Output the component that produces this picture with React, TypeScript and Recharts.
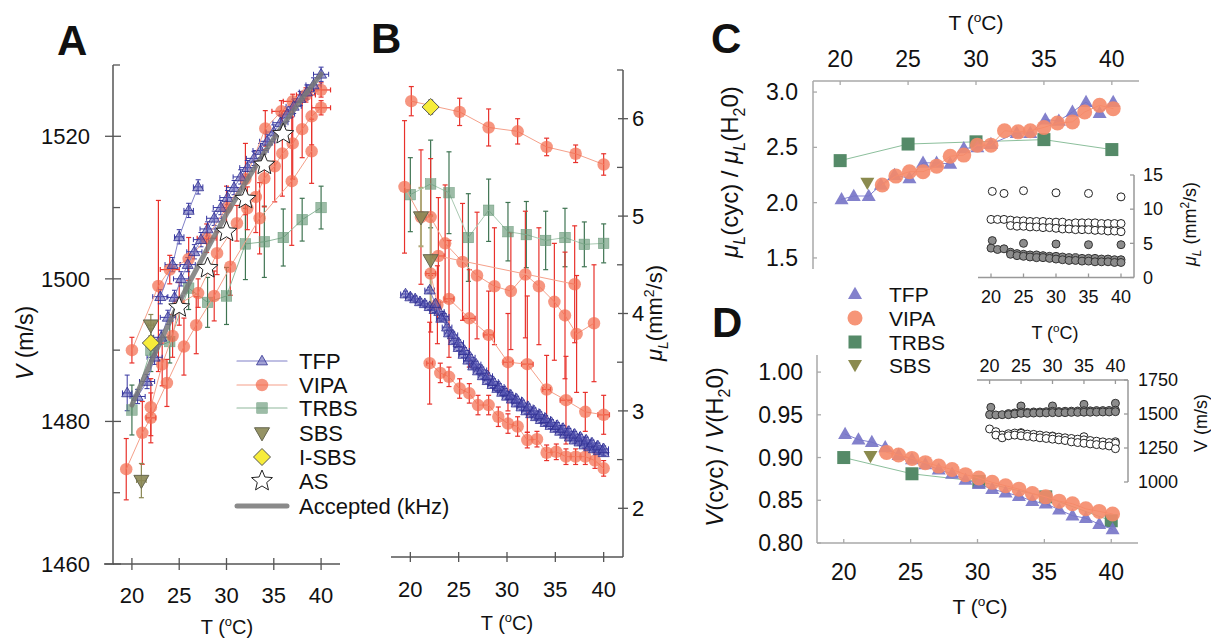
import React from "react";
import { ScatterChart, Scatter, XAxis, YAxis, ErrorBar } from "recharts";

const FONT = "'Liberation Sans', Arial, Helvetica, sans-serif";

// [T, value, yErr?, xErr?]
type Pt = [number, number, number?, number?];

// ---------- panel A : V (m/s) ----------
const acceptedA: Pt[] = [
  [20, 1482.3], [21, 1485.3], [22, 1488.3], [23, 1491.2], [24, 1494.0], [25, 1496.7], [26, 1499.3],
  [27, 1501.8], [28, 1504.3], [29, 1506.7], [30, 1509.1], [31, 1511.3], [32, 1513.5], [33, 1515.6],
  [34, 1517.7], [35, 1519.7], [36, 1521.6], [37, 1523.5], [38, 1525.3], [39, 1527.0], [40, 1528.7],
];
const tfpA1: Pt[] = [
  [19.5, 1484, 2.5, 0.5], [20.6, 1483.5, 1, 0.8], [21.6, 1485.6, 1, 0.8], [22.4, 1489, 1, 0.8], [23.1, 1491.8, 1, 0.8],
  [23.8, 1494.6, 1, 0.8], [24.5, 1497.4, 1, 0.8], [25.2, 1500, 1, 0.8], [25.9, 1502, 1, 0.8], [26.6, 1503.8, 1, 0.8],
  [27.3, 1505.5, 1, 0.8], [28, 1507, 1, 0.8], [28.7, 1508.5, 1, 0.8], [29.4, 1510, 1, 0.8], [30.1, 1511.4, 1, 0.8],
  [30.8, 1512.8, 1, 0.8], [31.5, 1514.3, 1, 0.8], [32.2, 1515.6, 1, 0.8], [32.9, 1516.9, 1, 0.8], [33.6, 1518, 1, 0.8],
  [34.3, 1519.3, 1, 0.8], [35, 1520.6, 1, 0.8], [35.7, 1521.9, 1, 0.8], [36.4, 1523.1, 1, 0.8], [37.1, 1524.2, 1, 0.8],
  [37.8, 1525.3, 1, 0.8], [38.5, 1526.2, 1, 0.8], [39.2, 1527.2, 1, 0.8], [40, 1528.7, 1, 0.8],
];
const tfpA2: Pt[] = [[23, 1497.5, 1, 0.8], [24.3, 1502, 1, 0.8], [25, 1505.9, 1, 0.5], [26, 1509.6, 1, 0.5], [27, 1512.9, 1, 0.5]];
const vipaA1: Pt[] = [
  [19.4, 1473.3, 4.3], [21.1, 1478.4, 4.4], [22, 1480.5, 3.5, 0.5], [23.7, 1485.4, 3.3], [25.5, 1490.5, 4],
  [26.8, 1493.5, 4], [28.7, 1497.6, 3.5], [30.4, 1501.7, 4], [33.5, 1508.5, 5], [36.9, 1513.7, 9], [39, 1517.9, 4.5],
];
const vipaA2: Pt[] = [
  [20, 1490, 1.8], [22.8, 1499, 12], [24, 1501.3, 2, 1], [26, 1502.8, 3], [27.9, 1505.7, 2, 1], [30, 1510, 3],
  [32, 1514, 5], [34.1, 1521.1, 2.5], [35.8, 1523.5, 1.5, 1], [37, 1524.9, 1, 1], [38.4, 1525.8, 1, 1], [40, 1526.5, 1, 1],
];
const vipaA3: Pt[] = [
  [22, 1482, 4], [23.2, 1488, 3], [24.3, 1492, 3], [25, 1496.5, 3], [27, 1498, 2], [29, 1503.6, 3],
  [31.1, 1507.8, 2.5], [32.2, 1509.9, 3], [33.1, 1511.5, 5], [34, 1514.1, 4], [35.1, 1515.8, 5], [35.9, 1517.6, 6],
  [37, 1519, 5], [38, 1521, 4], [39, 1522.8, 4], [40, 1524, 1, 1],
];
const trbsA: Pt[] = [
  [20, 1481.6, 3.5], [22, 1490, 3], [24, 1491.2, 3], [26, 1498.7, 3], [28, 1496.7, 3.5], [30, 1497.6, 4],
  [32, 1504.9, 5], [34, 1505.2, 5], [36, 1505.8, 4], [38, 1508.3, 3], [40, 1510, 3],
];
const sbsA: Pt[] = [[21, 1471.7, 2.4, 0.5], [22, 1493.5, 1.5, 0.3]];
const isbsA: Pt[] = [[22, 1491]];
const asA: Pt[] = [[25, 1496], [28, 1501.5], [30, 1506.6], [32, 1511.2], [34, 1516], [36, 1520.3]];

// ---------- panel B : muL (mm2/s) ----------
const vipaB1: Pt[] = [[20.1, 6.18, 0.15], [25.1, 6.07, 0.14], [28.1, 5.91, 0.19], [31.1, 5.87, 0.13], [34.1, 5.71, 0.09], [37.1, 5.64, 0.09], [40, 5.53, 0.11]];
const vipaB2: Pt[] = [
  [19.4, 5.3, 0.68], [21.1, 4.99, 0.69], [22.1, 4.99, 0.6], [23.6, 4.72, 0.6], [25.4, 4.53, 0.6], [26.9, 4.39, 0.65],
  [28.7, 4.28, 0.6], [30.4, 4.23, 0.6], [31.9, 4.4, 0.65], [33.3, 4.28, 0.6], [34.9, 4.12, 0.6], [36, 3.98, 0.65],
  [37.2, 3.79, 0.6], [39, 3.9, 0.6],
];
const vipaB3: Pt[] = [[22.9, 4.59, 0.6, 0.6], [37, 4.3, 0.6]];
const vipaB4: Pt[] = [
  [22.1, 4.41, 0.6, 0.5], [22.8, 4.09, 0.4], [24, 4.15, 0.6, 0.5], [26.1, 3.95, 0.5, 0.6], [28.1, 3.78, 0.45, 0.5],
  [30.1, 3.5, 0.5, 0.5], [32.1, 3.48, 0.7, 0.6], [34.1, 3.22, 0.35, 0.4], [36.1, 3.11, 0.45, 0.6], [38.1, 2.99, 0.2],
  [40, 2.96, 0.2, 0.6],
];
const vipaB5: Pt[] = [
  [22, 3.49, 0.42, 0.3], [23.1, 3.39, 0.1], [24, 3.35, 0.1], [25.1, 3.23, 0.1], [26.1, 3.18, 0.1], [27, 3.06, 0.1],
  [28.1, 3.06, 0.1], [29.1, 2.94, 0.1], [30.1, 2.87, 0.1], [31.1, 2.84, 0.1], [32.1, 2.7, 0.08], [33.1, 2.71, 0.08],
  [34.1, 2.57, 0.08], [35.1, 2.58, 0.08], [36.1, 2.53, 0.08], [37.1, 2.53, 0.08], [38.1, 2.53, 0.08], [39.1, 2.49, 0.08],
  [40, 2.41, 0.08],
];
const tfpB1: Pt[] = [
  [19.5, 4.2], [20, 4.17], [20.5, 4.15], [21, 4.12], [21.5, 4.1], [22, 4.07], [22.5, 4.04], [23, 4.02], [23.5, 3.97],
  [24, 3.8], [24.5, 3.72], [25, 3.65], [25.5, 3.58], [26, 3.52], [26.5, 3.46], [27, 3.41], [27.5, 3.36], [28, 3.31],
  [28.5, 3.27], [29, 3.23], [29.5, 3.19], [30, 3.15], [30.5, 3.12], [31, 3.08], [31.5, 3.04], [32, 3.0], [32.5, 2.97],
  [33, 2.94], [33.5, 2.91], [34, 2.88], [34.5, 2.85], [35, 2.82], [35.5, 2.79], [36, 2.76], [36.5, 2.73], [37, 2.7],
  [37.5, 2.68], [38, 2.65], [38.5, 2.63], [39, 2.61], [39.5, 2.59], [40, 2.57],
];
const tfpB2: Pt[] = [
  [22, 4.24], [22.6, 4.1], [23.2, 3.95], [23.8, 3.86], [24.4, 3.78], [25, 3.7], [25.6, 3.62], [26.2, 3.55], [26.8, 3.48],
  [27.4, 3.42], [28, 3.36], [28.6, 3.3], [29.2, 3.25], [29.8, 3.2], [30.4, 3.16], [31, 3.12], [31.6, 3.08], [32.2, 3.04],
  [32.8, 3.0], [33.4, 2.96], [34, 2.92], [34.6, 2.88], [35.2, 2.85], [35.8, 2.82], [36.4, 2.79], [37, 2.76], [37.6, 2.73],
  [38.2, 2.7], [38.8, 2.67], [39.4, 2.64], [40, 2.61],
];
const trbsB: Pt[] = [
  [20, 5.22, 0.38], [22.1, 5.33, 0.45], [24, 5.24, 0.42], [26, 4.78, 0.45], [28.1, 5.06, 0.32], [30.1, 4.84, 0.3],
  [32, 4.81, 0.34], [34, 4.75, 0.3], [36, 4.78, 0.3], [38, 4.71, 0.23], [40, 4.72, 0.2],
];
const sbsB: Pt[] = [[21.1, 4.99, 0.3, 0.3], [22.1, 4.55, 0.45]];
const isbsB: Pt[] = [[22.1, 6.12, 0.07]];

// ---------- panel C : muL ratio ----------
const tfpC: Pt[] = [
  [20.1, 2.03], [21, 2.06], [22.1, 2.06], [23, 2.16], [24, 2.25], [25.1, 2.22], [26.1, 2.36], [27.1, 2.36], [28.1, 2.35],
  [29.1, 2.49], [30.1, 2.5], [31.1, 2.53], [33, 2.63], [34, 2.63], [35.1, 2.75], [36.1, 2.74], [37.1, 2.82], [38.1, 2.91],
  [39.1, 2.81], [40.1, 2.91],
];
const vipaC: Pt[] = [
  [23.1, 2.16], [24.1, 2.24], [25.1, 2.28], [26.1, 2.28], [27.1, 2.33], [28.1, 2.42], [29.1, 2.43], [30.1, 2.52],
  [31.1, 2.52], [32.1, 2.65], [33.1, 2.64], [34, 2.65], [35, 2.68], [36, 2.72], [37.1, 2.73], [38, 2.82], [39.1, 2.88],
  [40.1, 2.85],
];
const trbsC: Pt[] = [[20, 2.38], [25, 2.53], [30, 2.55], [35, 2.57], [40, 2.48]];
const sbsC: Pt[] = [[22, 2.18]];
// inset C : muL (mm2/s)
const openC0: Pt[] = [[20.2, 12.6], [22, 12.3], [25, 12.7], [30, 12.4], [35, 12.3], [40, 11.8]];
const openC1: Pt[] = [
  [20, 8.5], [21, 8.5], [22, 8.5], [23, 8.4], [24, 8.3], [25, 8.3], [26, 8.2], [27, 8.2], [28, 8.2], [29, 8.1], [30, 8.1],
  [31, 8.1], [32, 7.9], [33, 8.0], [34, 8.0], [35, 8.0], [36, 8.0], [37, 7.9], [38, 7.9], [39, 7.9], [40, 7.9],
];
const openC2: Pt[] = [
  [23, 7.6], [24, 7.5], [25, 7.5], [26, 7.4], [27, 7.4], [28, 7.3], [29, 7.3], [30, 7.2], [31, 7.1], [32, 7.1], [33, 7.0],
  [34, 7.0], [35, 7.0], [36, 6.9], [37, 6.9], [38, 6.8], [39, 6.8], [40, 6.7],
];
const grayC0: Pt[] = [[20.2, 5.4], [25, 5.0], [30, 4.9], [35, 4.8], [40, 4.8]];
const grayC1: Pt[] = [
  [20, 4.3], [21, 4.1], [22, 4.2], [23, 3.7], [24, 3.5], [25, 3.4], [26, 3.3], [27, 3.3], [28, 3.2], [29, 3.1], [30, 3.1],
  [31, 3.0], [32, 2.9], [33, 2.9], [34, 2.8], [35, 2.8], [36, 2.8], [37, 2.7], [38, 2.7], [39, 2.6], [40, 2.6],
];
const grayC2: Pt[] = [
  [23, 3.4], [24, 3.2], [25, 3.1], [26, 3.0], [27, 2.9], [28, 2.9], [29, 2.8], [30, 2.7], [31, 2.6], [32, 2.5], [33, 2.5],
  [34, 2.4], [35, 2.4], [36, 2.3], [37, 2.3], [38, 2.3], [39, 2.2], [40, 2.2],
];

// ---------- panel D : V ratio ----------
const tfpD: Pt[] = [
  [20.1, 0.9275], [21.1, 0.921], [22.1, 0.918], [23.1, 0.912], [24.1, 0.903], [25.1, 0.898], [26.1, 0.892], [27.1, 0.886],
  [28.1, 0.881], [29.1, 0.874], [30.1, 0.869], [31.1, 0.863], [32.1, 0.859], [33.1, 0.855], [34.1, 0.849], [35.1, 0.846],
  [36.1, 0.839], [37.1, 0.832], [38.1, 0.829], [39.1, 0.822], [40.1, 0.816],
];
const vipaD: Pt[] = [
  [23.2, 0.906], [24.1, 0.903], [25.1, 0.899], [26.1, 0.894], [27.1, 0.89], [28.1, 0.886], [29.1, 0.88], [30.1, 0.876],
  [31.1, 0.871], [32.1, 0.867], [33.1, 0.863], [34.1, 0.858], [35.1, 0.854], [36.1, 0.849], [37.1, 0.846], [38.1, 0.84],
  [39.1, 0.837], [40.1, 0.834],
];
const trbsD: Pt[] = [[20, 0.9], [25.1, 0.881], [30.1, 0.872], [35.1, 0.854], [40, 0.826]];
const sbsD: Pt[] = [[22, 0.902]];
// inset D : V (m/s)
const grayD0: Pt[] = [[20.2, 1549], [25, 1559], [30, 1559], [35, 1571], [40, 1579]];
const grayD1: Pt[] = [
  [20, 1495], [21, 1493], [22, 1495], [23, 1503], [24, 1508], [25, 1515], [26, 1512], [27, 1515], [28, 1515], [29, 1517],
  [30, 1520], [31, 1518], [32, 1520], [33, 1521], [34, 1522], [35, 1524], [36, 1523], [37, 1525], [38, 1525], [39, 1526],
  [40, 1528],
];
const grayD2: Pt[] = [
  [23, 1495], [24, 1500], [25, 1505], [26, 1505], [27, 1507], [28, 1508], [29, 1508], [30, 1510], [31, 1510], [32, 1510],
  [33, 1512], [34, 1512], [35, 1513], [36, 1513], [37, 1514], [38, 1515], [39, 1515], [40, 1517],
];
const openD0: Pt[] = [[20, 1390], [25, 1363], [30, 1338], [35, 1333], [40, 1296]];
const openD1: Pt[] = [
  [21, 1370], [22, 1345], [23, 1355], [24, 1360], [25, 1358], [26, 1352], [27, 1350], [28, 1345], [29, 1340], [30, 1335],
  [31, 1330], [32, 1325], [33, 1320], [34, 1315], [35, 1310], [36, 1305], [37, 1300], [38, 1295], [39, 1290], [40, 1285],
];
const openD2: Pt[] = [
  [21, 1345], [22, 1325], [23, 1340], [24, 1345], [25, 1340], [26, 1335], [27, 1330], [28, 1325], [29, 1320], [30, 1315],
  [31, 1310], [32, 1305], [33, 1295], [34, 1290], [35, 1285], [36, 1280], [37, 1275], [38, 1270], [39, 1265], [40, 1245],
];

const tempTicks = [20, 25, 30, 35, 40];

const toPts = (a: Pt[]) => a.map(([x, y, ey, ex]) => ({ x, y, ey: ey ?? 0, ex: ex ?? 0 }));
// TFP points carry the same small bars everywhere
const tfpErr = (a: Pt[]) => a.map(([x, y]) => ({ x, y, ey: 0.03, ex: 0.5 }));

// ---------- markers ----------
type Kind = "tri" | "inv" | "circ" | "sq" | "dia" | "star" | "none";
type Sty = { kind: Kind; s: number; fill: string; stroke?: string; fo?: number; sw?: number };

function glyph(cx: number, cy: number, m: Sty) {
  const { kind, s, fill, stroke = "none", fo = 1, sw = 1 } = m;
  const st = { fill, fillOpacity: fo, stroke, strokeWidth: sw };
  const h = s / 2;
  switch (kind) {
    case "circ":
      return <circle cx={cx} cy={cy} r={h} {...st} />;
    case "sq":
      return <rect x={cx - h} y={cy - h} width={s} height={s} {...st} />;
    case "tri":
      return <polygon points={`${cx},${cy - h * 1.05} ${cx + h},${cy + h * 0.7} ${cx - h},${cy + h * 0.7}`} {...st} />;
    case "inv":
      return <polygon points={`${cx},${cy + h * 1.05} ${cx + h},${cy - h * 0.7} ${cx - h},${cy - h * 0.7}`} {...st} />;
    case "dia":
      return <polygon points={`${cx},${cy - h} ${cx + h},${cy} ${cx},${cy + h} ${cx - h},${cy}`} {...st} />;
    case "star": {
      const pts: string[] = [];
      for (let i = 0; i < 10; i++) {
        const r = i % 2 ? h * 0.45 : h;
        const a = -Math.PI / 2 + (i * Math.PI) / 5;
        pts.push(`${cx + r * Math.cos(a)},${cy + r * Math.sin(a)}`);
      }
      return <polygon points={pts.join(" ")} {...st} />;
    }
    default:
      return <g />;
  }
}
const shape = (m: Sty) => (p: any) => (p.cx == null ? <g /> : glyph(p.cx, p.cy, m));

const triAB: Sty = { kind: "tri", s: 11, fill: "#5555b0", stroke: "#2e2e90", fo: 0.55, sw: 0.8 };
const circAB: Sty = { kind: "circ", s: 12.5, fill: "#f26a4c", fo: 0.7 };
const sqAB: Sty = { kind: "sq", s: 10.5, fill: "#5c8f6c", stroke: "#6c9c7c", fo: 0.6, sw: 0.5 };
const invAB: Sty = { kind: "inv", s: 15, fill: "#8a8754", stroke: "#666650", fo: 0.9 };
const diaAB: Sty = { kind: "dia", s: 17, fill: "#f7ec3a", stroke: "#555" };
const starAB: Sty = { kind: "star", s: 22, fill: "#fff", stroke: "#222" };
const noMark: Sty = { kind: "none", s: 0, fill: "none" };

const triCD: Sty = { kind: "tri", s: 14, fill: "#7673c6", fo: 0.9 };
const circCD: Sty = { kind: "circ", s: 15, fill: "#f58a69", fo: 0.9 };
const sqCD: Sty = { kind: "sq", s: 13, fill: "#558a68" };
const invCD: Sty = { kind: "inv", s: 14, fill: "#8a8a4e" };
const openI: Sty = { kind: "circ", s: 8, fill: "#fff", stroke: "#222" };
const grayI: Sty = { kind: "circ", s: 8, fill: "#8c8c8c", stroke: "#333" };

const RED = "#e8312b";
const NAVY = "#3535a0";
const DKGREEN = "#3f7452";

type SerOpt = { line?: string; lw?: number; ey?: string; ex?: string; ew?: number };
function series(id: string, data: any[], m: Sty, o: SerOpt = {}) {
  return (
    <Scatter
      key={id}
      data={data}
      isAnimationActive={false}
      shape={shape(m)}
      line={o.line ? { stroke: o.line, strokeWidth: o.lw ?? 1, strokeLinecap: "round" } : false}
    >
      {o.ey && <ErrorBar dataKey="ey" direction="y" width={2.5} stroke={o.ey} strokeWidth={o.ew ?? 1.2} />}
      {o.ex && <ErrorBar dataKey="ex" direction="x" width={2.5} stroke={o.ex} strokeWidth={o.ew ?? 1.2} />}
    </Scatter>
  );
}

// ---------- ticks ----------
type TickCfg = {
  side: "left" | "right" | "top" | "bottom";
  major: number[];
  fmt?: (v: number) => string;
  fs: number;
  gap: number;
  out: number;
  inn: number;
  minor?: number;
  color: string;
};
// recharts hands the tick the point on the axis line (tickSize and tickMargin are 0)
function tickFn(c: TickCfg) {
  return (p: any) => {
    const { x, y, payload } = p;
    const v = payload.value;
    const isMajor = c.major.some((m) => Math.abs(m - v) < 1e-9);
    const sg = c.side === "left" || c.side === "top" ? -1 : 1;
    const vert = c.side === "left" || c.side === "right";
    const o = isMajor ? c.out : 0;
    const i = isMajor ? c.inn : c.minor ?? 0;
    const ln = vert ? (
      <line x1={x + sg * o} x2={x - sg * i} y1={y} y2={y} stroke={c.color} strokeWidth={1.3} />
    ) : (
      <line x1={x} x2={x} y1={y + sg * o} y2={y - sg * i} stroke={c.color} strokeWidth={1.3} />
    );
    const txt = c.fmt ? c.fmt(v) : String(v);
    const ts = { fontSize: c.fs, fontFamily: FONT, fill: "#111" };
    const lab = !isMajor ? null : vert ? (
      <text x={x + sg * c.gap} y={y} dy="0.35em" textAnchor={sg < 0 ? "end" : "start"} style={ts}>
        {txt}
      </text>
    ) : (
      <text x={x} y={y + sg * c.gap} dy="0.35em" textAnchor="middle" style={ts}>
        {txt}
      </text>
    );
    return (
      <g>
        {ln}
        {lab}
      </g>
    );
  };
}

// ---------- frame ----------
const PAD = 90;
type FrameP = {
  box: [number, number, number, number];
  xd: [number, number];
  yd: [number, number];
  xt: number[];
  yt: number[];
  xs: "top" | "bottom";
  ys: "left" | "right";
  xTick: any;
  yTick: any;
  axis: string;
  children: React.ReactNode;
};
function Frame({ box, xd, yd, xt, yt, xs, ys, xTick, yTick, axis, children }: FrameP) {
  const [l, t, r, b] = box;
  const AW = 2; // thin axis boxes, plot edge stays on box
  const margin = {
    top: PAD - (xs === "top" ? AW : 0),
    bottom: PAD - (xs === "bottom" ? AW : 0),
    left: PAD - (ys === "left" ? AW : 0),
    right: PAD - (ys === "right" ? AW : 0),
  };
  return (
    <div style={{ position: "absolute", left: l - PAD, top: t - PAD }}>
      <ScatterChart width={r - l + 2 * PAD} height={b - t + 2 * PAD} margin={margin}>
        <XAxis
          type="number"
          dataKey="x"
          domain={xd}
          ticks={xt}
          orientation={xs}
          height={AW}
          tickSize={0}
          tickMargin={0}
          interval={0}
          tickLine={false}
          allowDataOverflow
          axisLine={{ stroke: axis, strokeWidth: 1.5 }}
          tick={xTick}
        />
        <YAxis
          type="number"
          dataKey="y"
          domain={yd}
          ticks={yt}
          orientation={ys}
          width={AW}
          tickSize={0}
          tickMargin={0}
          interval={0}
          tickLine={false}
          allowDataOverflow
          axisLine={{ stroke: axis, strokeWidth: 1.5 }}
          tick={yTick}
        />
        {children}
      </ScatterChart>
    </div>
  );
}

const AX_DARK = "#555";
const AX_LIGHT = "#a9a9a9";

function PanelA() {
  return (
    <Frame
      box={[113, 65, 340, 564]}
      xd={[18, 42]}
      yd={[1460, 1530]}
      xt={tempTicks}
      yt={[1460, 1470, 1480, 1490, 1500, 1510, 1520, 1530]}
      xs="bottom"
      ys="left"
      axis={AX_DARK}
      xTick={tickFn({ side: "bottom", major: tempTicks, fs: 22, gap: 31, out: 6, inn: 6, color: AX_DARK })}
      yTick={tickFn({ side: "left", major: [1460, 1480, 1500, 1520], fs: 22, gap: 23, out: 8, inn: 8, minor: 7, color: AX_DARK })}
    >
      {series("trbsA", toPts(trbsA), sqAB, { line: "#8fb89c", ey: DKGREEN })}
      {series("vipaA1", toPts(vipaA1), circAB, { line: "#f5a08a", ey: RED, ex: RED })}
      {series("vipaA2", toPts(vipaA2), circAB, { line: "#f5a08a", ey: RED, ex: RED })}
      {series("vipaA3", toPts(vipaA3), circAB, { line: "#f5a08a", ey: RED, ex: RED })}
      {series("tfpA1", toPts(tfpA1), triAB, { line: "#8080c8", ey: NAVY, ex: NAVY, ew: 1 })}
      {series("tfpA2", toPts(tfpA2), triAB, { line: "#8080c8", ey: NAVY, ex: NAVY, ew: 1 })}
      {series("accA", toPts(acceptedA), noMark, { line: "rgba(120,120,120,0.85)", lw: 5 })}
      {series("sbsA", toPts(sbsA), invAB, { ey: "#8a8754", ex: "#8a8754" })}
      {series("isbsA", toPts(isbsA), diaAB)}
      {series("asA", toPts(asA), starAB)}
    </Frame>
  );
}

function PanelB() {
  return (
    <Frame
      box={[391, 70, 623, 557]}
      xd={[18, 42]}
      yd={[1.5, 6.5]}
      xt={tempTicks}
      yt={[2, 2.5, 3, 3.5, 4, 4.5, 5, 5.5, 6, 6.5]}
      xs="bottom"
      ys="right"
      axis={AX_DARK}
      xTick={tickFn({ side: "bottom", major: tempTicks, fs: 22, gap: 32, out: 5, inn: 5, color: AX_DARK })}
      yTick={tickFn({ side: "right", major: [2, 3, 4, 5, 6], fs: 22, gap: 9, out: 5, inn: 5, minor: 6, color: AX_DARK })}
    >
      {series("trbsB", toPts(trbsB), sqAB, { line: "#a9c9b2", ey: DKGREEN })}
      {series("vipaB1", toPts(vipaB1), circAB, { line: "#f5a08a", ey: RED })}
      {series("vipaB2", toPts(vipaB2), circAB, { line: "#f5a08a", ey: RED, ex: RED })}
      {series("vipaB3", toPts(vipaB3), circAB, { line: "#f5a08a", ey: RED, ex: RED })}
      {series("vipaB4", toPts(vipaB4), circAB, { line: "#f5a08a", ey: RED, ex: RED })}
      {series("vipaB5", toPts(vipaB5), circAB, { line: "#f5a08a", ey: RED, ex: RED })}
      {series("tfpB1", tfpErr(tfpB1), triAB, { line: "#8080c8", ey: NAVY, ex: NAVY, ew: 1 })}
      {series("tfpB2", tfpErr(tfpB2), triAB, { line: "#8080c8", ey: NAVY, ex: NAVY, ew: 1 })}
      {series("sbsB", toPts(sbsB), invAB, { ey: "#b0a878", ex: "#b0a878", ew: 2 })}
      {series("isbsB", toPts(isbsB), diaAB, { ey: "#222" })}
    </Frame>
  );
}

function PanelC() {
  return (
    <>
      <Frame
        box={[813, 81, 1139, 269]}
        xd={[18, 42]}
        yd={[1.4, 3.1]}
        xt={tempTicks}
        yt={[1.5, 2, 2.5, 3]}
        xs="top"
        ys="left"
        axis={AX_LIGHT}
        xTick={tickFn({ side: "top", major: tempTicks, fs: 23, gap: 22, out: 0, inn: 4, color: AX_LIGHT })}
        yTick={tickFn({ side: "left", major: [1.5, 2, 2.5, 3], fmt: (v) => v.toFixed(1), fs: 23, gap: 15, out: 0, inn: 4, color: AX_LIGHT })}
      >
        {series("trbsC", toPts(trbsC), sqCD, { line: "#8cbf9c" })}
        {series("tfpC", toPts(tfpC), triCD, { line: "#8080d0" })}
        {series("vipaC", toPts(vipaC), circCD, { line: "#f59a7a" })}
        {series("sbsC", toPts(sbsC), invCD)}
      </Frame>
      <Frame
        box={[978, 175, 1134, 277.5]}
        xd={[18, 42]}
        yd={[0, 15]}
        xt={tempTicks}
        yt={[0, 5, 10, 15]}
        xs="bottom"
        ys="right"
        axis="#999"
        xTick={tickFn({ side: "bottom", major: tempTicks, fs: 18, gap: 19, out: 0, inn: 4, color: "#999" })}
        yTick={tickFn({ side: "right", major: [0, 5, 10, 15], fs: 18, gap: 9, out: 0, inn: 4, color: "#999" })}
      >
        {series("openC0", toPts(openC0), openI)}
        {series("openC1", toPts(openC1), openI)}
        {series("openC2", toPts(openC2), openI)}
        {series("grayC0", toPts(grayC0), grayI)}
        {series("grayC1", toPts(grayC1), grayI)}
        {series("grayC2", toPts(grayC2), grayI)}
      </Frame>
    </>
  );
}

function PanelD() {
  return (
    <>
      <Frame
        box={[817, 355, 1138, 543]}
        xd={[18, 42]}
        yd={[0.8, 1.02]}
        xt={tempTicks}
        yt={[0.8, 0.85, 0.9, 0.95, 1.0]}
        xs="bottom"
        ys="left"
        axis={AX_LIGHT}
        xTick={tickFn({ side: "bottom", major: tempTicks, fs: 23, gap: 28.5, out: 0, inn: 4, color: AX_LIGHT })}
        yTick={tickFn({ side: "left", major: [0.8, 0.85, 0.9, 0.95, 1.0], fmt: (v) => v.toFixed(2), fs: 23, gap: 14, out: 0, inn: 4, color: AX_LIGHT })}
      >
        {series("trbsD", toPts(trbsD), sqCD, { line: "#8cbf9c" })}
        {series("tfpD", toPts(tfpD), triCD, { line: "#8080d0" })}
        {series("vipaD", toPts(vipaD), circCD, { line: "#f59a7a" })}
        {series("sbsD", toPts(sbsD), invCD)}
      </Frame>
      <Frame
        box={[977, 380, 1128, 482]}
        xd={[18, 42]}
        yd={[1000, 1750]}
        xt={tempTicks}
        yt={[1000, 1250, 1500, 1750]}
        xs="top"
        ys="right"
        axis="#999"
        xTick={tickFn({ side: "top", major: tempTicks, fs: 18, gap: 14.5, out: 0, inn: 4, color: "#999" })}
        yTick={tickFn({ side: "right", major: [1000, 1250, 1500, 1750], fs: 18, gap: 10, out: 0, inn: 4, color: "#999" })}
      >
        {series("openD0", toPts(openD0), openI)}
        {series("openD1", toPts(openD1), openI)}
        {series("openD2", toPts(openD2), openI)}
        {series("grayD0", toPts(grayD0), grayI)}
        {series("grayD1", toPts(grayD1), grayI)}
        {series("grayD2", toPts(grayD2), grayI)}
      </Frame>
    </>
  );
}

// "T (oC)" title
function TLabel({ x, y, fs }: { x: number; y: number; fs: number }) {
  return (
    <text x={x} y={y} textAnchor="middle" fontSize={fs}>
      {"T ("}
      <tspan dy={-fs * 0.4} fontSize={fs * 0.65}>o</tspan>
      <tspan dy={fs * 0.4}>C)</tspan>
    </text>
  );
}

const legendA = [
  { label: "TFP", m: triAB, line: "#8080c8" },
  { label: "VIPA", m: circAB, line: "#f5a08a" },
  { label: "TRBS", m: sqAB, line: "#8fb89c" },
  { label: "SBS", m: invAB },
  { label: "I-SBS", m: diaAB },
  { label: "AS", m: starAB },
  { label: "Accepted (kHz)", m: noMark, line: "#8a8a8a", lw: 5 },
];
const legendAY = [361, 385, 408, 433, 457, 481, 506];
const legendCD = [
  { label: "TFP", m: triCD },
  { label: "VIPA", m: circCD },
  { label: "TRBS", m: sqCD },
  { label: "SBS", m: invCD },
];
const legendCDY = [294, 318, 342, 365];

function Overlay() {
  return (
    <svg width={1211} height={638} style={{ position: "absolute", left: 0, top: 0 }} fontFamily={FONT} fill="#111">
      {/* panel letters */}
      <text x={57} y={55} fontSize={42} fontWeight="bold">A</text>
      <text x={371} y={53} fontSize={42} fontWeight="bold">B</text>
      <text x={711} y={53} fontSize={42} fontWeight="bold">C</text>
      <text x={712} y={337} fontSize={42} fontWeight="bold">D</text>

      {/* A: x axis line runs a little past the y axis */}
      <line x1={104} x2={114} y1={564} y2={564} stroke={AX_DARK} strokeWidth={1.5} />
      <text transform="translate(33,343) rotate(-90)" textAnchor="middle" fontSize={23}>
        <tspan fontStyle="italic">V</tspan> (m/s)
      </text>
      <TLabel x={227} y={634} fs={20} />

      {/* B */}
      <TLabel x={507} y={630} fs={20} />
      <text transform="translate(662,313) rotate(-90)" textAnchor="middle" fontSize={22}>
        <tspan fontStyle="italic">μ</tspan>
        <tspan dy={6} fontSize={14} fontStyle="italic">L</tspan>
        <tspan dy={-6}>(mm</tspan>
        <tspan dy={-8} fontSize={14}>2</tspan>
        <tspan dy={8}>/s)</tspan>
      </text>

      {/* C */}
      <TLabel x={976} y={30} fs={21} />
      <text transform="translate(738,172) rotate(-90)" textAnchor="middle" fontSize={24}>
        <tspan fontStyle="italic">μ</tspan>
        <tspan dy={7} fontSize={16} fontStyle="italic">L</tspan>
        <tspan dy={-7}>(cyc) / </tspan>
        <tspan fontStyle="italic">μ</tspan>
        <tspan dy={7} fontSize={16} fontStyle="italic">L</tspan>
        <tspan dy={-7}>(H</tspan>
        <tspan dy={7} fontSize={16}>2</tspan>
        <tspan dy={-7}>0)</tspan>
      </text>
      <text transform="translate(1196,224) rotate(-90)" textAnchor="middle" fontSize={18}>
        <tspan fontStyle="italic">μ</tspan>
        <tspan dy={5} fontSize={12} fontStyle="italic">L</tspan>
        <tspan dy={-5}> (mm</tspan>
        <tspan dy={-7} fontSize={12}>2</tspan>
        <tspan dy={7}>/s)</tspan>
      </text>
      <TLabel x={1055} y={339} fs={18} />

      {/* D */}
      <text transform="translate(723,447) rotate(-90)" textAnchor="middle" fontSize={24}>
        <tspan fontStyle="italic">V</tspan>
        <tspan>(cyc) / </tspan>
        <tspan fontStyle="italic">V</tspan>
        <tspan>(H</tspan>
        <tspan dy={7} fontSize={16}>2</tspan>
        <tspan dy={-7}>0)</tspan>
      </text>
      <text transform="translate(1207,423) rotate(-90)" textAnchor="middle" fontSize={18}>
        V (m/s)
      </text>
      <TLabel x={980} y={614} fs={21} />

      {/* legend A */}
      {legendA.map((e, i) => (
        <g key={e.label}>
          {e.line && <line x1={237} x2={287} y1={legendAY[i]} y2={legendAY[i]} stroke={e.line} strokeWidth={e.lw ?? 1.2} strokeLinecap="round" />}
          {glyph(262, legendAY[i], e.m)}
          <text x={299} y={legendAY[i]} dy="0.36em" fontSize={22}>{e.label}</text>
        </g>
      ))}

      {/* legend C/D */}
      {legendCD.map((e, i) => (
        <g key={e.label}>
          {glyph(855, legendCDY[i], e.m)}
          <text x={889} y={legendCDY[i]} dy="0.36em" fontSize={21}>{e.label}</text>
        </g>
      ))}
    </svg>
  );
}

export default function App() {
  return (
    <div style={{ position: "absolute", left: 0, top: 0, width: 1211, height: 638, background: "#fff", overflow: "hidden", fontFamily: FONT }}>
      <PanelA />
      <PanelB />
      <PanelC />
      <PanelD />
      <Overlay />
    </div>
  );
}
